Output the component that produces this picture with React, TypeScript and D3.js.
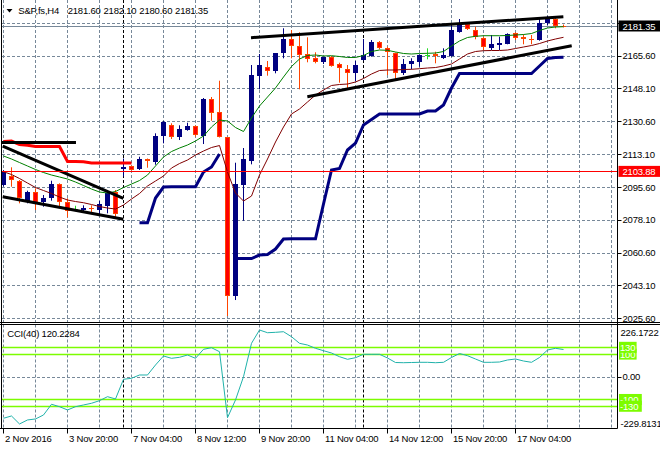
import React from "react";
import * as d3 from "d3";

// ---------- data ----------
const opens = [2096.61, 2101.41, 2098.74, 2087.55, 2092.72, 2087.55, 2089.53, 2097.15, 2087.39, 2083.98,
  2083.45, 2084.36, 2083.45, 2085.26, 2093.04, 2105.41, 2106.74, 2105.14, 2110.47, 2109.03,
  2122.72, 2128.43, 2122.35, 2125.92, 2128.05, 2122.72, 2142.44, 2135.67, 2122.03, 2037.46,
  2096.77, 2109.56, 2154.70, 2159.33, 2157.20, 2166.79, 2174.25, 2170.68, 2166.42, 2164.45,
  2162.00, 2164.66, 2160.93, 2158.59, 2156.46, 2163.22, 2165.35, 2172.66, 2169.46, 2167.11,
  2156.14, 2160.93, 2162.32, 2165.89, 2166.42, 2164.45, 2165.51, 2178.30, 2182.25, 2179.21,
  2174.79, 2169.46, 2171.38, 2171.75, 2177.45, 2175.48, 2174.57, 2173.88, 2182.78, 2185.07, 2181.60];
const highs = [2104.61, 2106.05, 2099.28, 2093.58, 2094.85, 2091.28, 2098.91, 2097.52, 2089.53, 2085.58,
  2085.80, 2085.80, 2088.09, 2093.95, 2093.95, 2110.73, 2107.00, 2111.69, 2110.73, 2124.16,
  2130.72, 2129.49, 2128.43, 2129.81, 2128.32, 2142.97, 2143.51, 2152.19, 2122.19, 2108.50,
  2116.33, 2160.56, 2166.42, 2162.69, 2166.95, 2180.12, 2179.21, 2177.98, 2175.32, 2167.33,
  2164.98, 2165.35, 2161.78, 2160.56, 2162.69, 2174.41, 2173.88, 2173.35, 2170.31, 2167.22,
  2163.76, 2164.13, 2166.26, 2169.46, 2167.65, 2169.46, 2181.87, 2185.07, 2182.78, 2180.97,
  2175.64, 2176.55, 2175.64, 2177.45, 2177.98, 2176.92, 2176.55, 2185.44, 2186.67, 2185.76, 2182.10];
const lows = [2095.81, 2095.71, 2086.86, 2086.86, 2083.29, 2085.05, 2088.25, 2085.05, 2079.40, 2082.76,
  2082.23, 2081.16, 2081.16, 2081.53, 2078.50, 2101.14, 2104.34, 2104.61, 2105.83, 2107.43,
  2118.83, 2121.13, 2120.59, 2125.55, 2122.35, 2118.46, 2130.88, 2121.93, 2026.81, 2035.33,
  2077.59, 2107.64, 2147.61, 2154.86, 2156.14, 2164.13, 2164.13, 2147.61, 2162.00, 2161.46,
  2161.09, 2159.65, 2151.13, 2147.77, 2152.03, 2162.96, 2164.98, 2168.93, 2155.23, 2152.03,
  2155.23, 2158.27, 2159.65, 2163.60, 2161.46, 2163.76, 2164.98, 2177.77, 2179.21, 2174.25,
  2168.55, 2168.55, 2168.55, 2171.59, 2173.88, 2171.59, 2171.59, 2173.51, 2181.87, 2180.12, 2180.60];
const closes = [2103.54, 2099.28, 2089.95, 2093.04, 2086.86, 2089.69, 2096.99, 2087.71, 2082.76, 2083.98,
  2084.52, 2083.66, 2086.49, 2092.51, 2081.16, 2106.05, 2104.87, 2110.31, 2109.24, 2122.72,
  2130.35, 2122.35, 2126.45, 2128.05, 2123.26, 2142.60, 2135.14, 2122.03, 2037.62, 2097.15,
  2110.47, 2155.23, 2160.56, 2157.20, 2166.79, 2174.25, 2170.84, 2166.05, 2163.92, 2162.32,
  2164.66, 2160.19, 2158.80, 2156.46, 2160.56, 2165.89, 2172.98, 2169.46, 2167.33, 2156.14,
  2161.09, 2162.69, 2165.89, 2165.89, 2165.62, 2165.89, 2179.21, 2182.78, 2179.58, 2175.32,
  2169.99, 2171.59, 2172.44, 2177.08, 2175.11, 2174.25, 2174.15, 2182.78, 2185.44, 2181.34, 2181.35];

const maFast = [2112.07, 2110.47, 2108.60, 2106.74, 2104.87, 2103.27, 2101.94, 2100.88, 2099.81, 2098.21,
  2096.35, 2094.48, 2092.88, 2092.35, 2093.15, 2095.28, 2097.14, 2099.01, 2101.94, 2106.74,
  2111.53, 2114.46, 2116.33, 2117.93, 2120.06, 2122.72, 2127.52, 2131.25, 2130.72, 2127.26,
  2125.12, 2132.32, 2138.71, 2143.51, 2148.31, 2154.17, 2159.76, 2163.76, 2165.62, 2165.89,
  2165.36, 2165.52, 2165.09, 2164.56, 2164.56, 2165.62, 2167.75, 2168.55, 2168.39, 2167.49,
  2166.69, 2166.42, 2166.69, 2166.79, 2166.95, 2167.75, 2170.68, 2173.35, 2175.21, 2175.85,
  2176.17, 2176.17, 2176.17, 2176.28, 2176.55, 2176.81, 2177.34, 2178.94, 2180.27, 2180.81, 2180.97];
const maSlow = [2103.70, 2102.21, 2100.08, 2097.68, 2095.28, 2093.68, 2092.08, 2090.22, 2088.62, 2087.82,
  2087.18, 2086.22, 2085.16, 2084.36, 2083.82, 2085.95, 2089.15, 2092.08, 2096.08, 2098.74,
  2101.41, 2105.67, 2108.07, 2109.93, 2112.60, 2114.73, 2116.60, 2117.66, 2103.54, 2092.35,
  2088.09, 2090.75, 2101.94, 2110.47, 2119.53, 2127.52, 2134.45, 2137.11, 2140.84, 2144.57,
  2147.24, 2149.64, 2150.17, 2150.43, 2151.50, 2153.37, 2155.76, 2157.63, 2157.89, 2157.89,
  2158.16, 2158.27, 2158.59, 2158.96, 2159.22, 2160.02, 2161.09, 2163.76, 2166.42, 2167.75,
  2168.18, 2168.28, 2168.28, 2168.55, 2169.35, 2170.15, 2170.95, 2172.01, 2173.35, 2174.41, 2175.32];
const trailUp = [null, null, null, null, null, null, null, null, null, null,
  null, null, null, null, null, null, null, 2076.52, 2076.52, 2089.69,
  2095.55, 2095.71, 2095.71, 2095.71, 2095.71, 2103.54, 2106.20, 2113.13, null, 2057.45,
  2057.45, 2057.45, 2059.31, 2059.58, 2062.51, 2067.84, 2068.00, 2068.00, 2068.00, 2068.00,
  2086.49, 2104.61, 2105.41, 2115.26, 2118.99, 2128.59, 2131.52, 2134.45, 2134.45, 2134.45,
  2134.45, 2134.45, 2134.45, 2136.05, 2136.05, 2139.25, 2148.31, 2156.03, 2156.03, 2156.03,
  2156.03, 2156.03, 2156.03, 2156.03, 2156.03, 2156.03, 2156.03, 2160.02, 2164.02, 2164.56, 2164.67];
const trailDown = [2119.79, 2120.06, 2118.20, 2117.77, 2117.13, 2117.13, 2117.13, 2117.13, 2109.14, 2109.14,
  2108.98, 2108.34, 2108.34, 2108.34, 2108.34, 2108.34, 2108.34];

const cciValues = [-182.9, -172.8, -208.0, -190.4, -186.0, -168.4, -121.2, -131.8, -146.3, -131.8,
  -124.3, -116.8, -105.3, -87.7, -97.8, -11.0, -6.6, 7.9, 7.9, 52.0,
  91.7, 81.5, 85.9, 96.1, 81.5, 121.2, 128.2, 110.6, -180.3, -102.2,
  0.4, 147.6, 206.3, 194.4, 196.1, 198.8, 176.7, 147.6, 140.1, 125.6,
  115.0, 104.9, 88.6, 77.1, 84.2, 99.2, 99.2, 99.2, 82.9, 63.0,
  62.1, 63.0, 63.9, 63.9, 62.1, 63.9, 85.1, 102.7, 93.0, 78.4,
  63.9, 63.9, 65.2, 74.0, 78.4, 69.6, 63.9, 85.1, 118.1, 125.6, 120.2284];
const cciRange = [-229.8131, 226.1722];
const cciLevels = [100, -100, 130, -130];

const priceTicks = [2025.6, 2043.1, 2060.6, 2078.1, 2095.6, 2113.1, 2130.6, 2148.1, 2165.6, 2183.1];
const hiddenPriceTicks = [2183.1];
const timeLabelBars = [0, 8, 16, 24, 32, 40, 48, 56, 64];
const timeLabelTexts = ["2 Nov 2016", "3 Nov 20:00", "7 Nov 04:00", "8 Nov 12:00", "9 Nov 20:00",
  "11 Nov 04:00", "14 Nov 12:00", "15 Nov 20:00", "17 Nov 04:00"];
const separatorBars = [15, 45];

// trend line objects: [bar, price] pairs
const trendStartBar = [-0.2, -0.1, -0.1, 30.94, 37.98];
const trendStartPrice = [2119.26, 2117.40, 2090.38, 2175.11, 2143.67];
const trendEndBar = [9.06, 14.98, 14.98, 69.98, 71.03];
const trendEndPrice = [2119.26, 2089.53, 2078.34, 2186.30, 2170.84];

const hLinePrice = 2103.88;
const quoteValues = [2181.60, 2182.10, 2180.60, 2181.35];
const symbolText = "S&P,fs,H4";

// ---------- layout ----------
const W = 660, H = 450;
const plotLeft = 2, plotRight = 617.5;
const mainBottom = 322.5, cciTop = 324.5, cciBottom = 428.5;
const FONT = "'Liberation Sans', Arial, sans-serif";
const GRID = "#778899";
const BULL = "#000080";
const BEAR_FILL = "#ff0000";
const BEAR_EDGE = "#ff4500";
const DOJI = "#22dd22";

export default function App() {
  const x = d3.scaleLinear().domain([0, 70]).range([3.5, 563.5]);
  const y = d3.scaleLinear().domain([2025.6, 2183.1]).range([318.3, 22.7]);
  const yc = d3.scaleLinear().domain(cciRange).range([428.9, 325.5]);
  const snap = (v: number) => Math.round(v) + 0.5;

  const lineP = d3.line<number | null>()
    .defined((d) => d != null)
    .x((_, i) => x(i))
    .y((d) => y(d as number));
  const lineC = d3.line<number>().x((_, i) => x(i)).y((d) => yc(d));

  const gridBars = d3.range(0, 77, 4);
  const lastIdx = opens.length - 1;

  const candles = opens.map((o, i) => {
    const c = closes[i];
    const cx = x(i);
    const yo = Math.round(y(o));
    const yC = Math.round(y(c));
    const top = Math.min(yo, yC);
    const bot = Math.max(yo, yC);
    const h = bot - top;
    const yh = y(highs[i]);
    const yl = y(lows[i]);
    if (o === c) {
      return (
        <g key={i}>
          <line x1={cx} x2={cx} y1={yh} y2={yl} stroke={DOJI} />
          <line x1={cx - 2.5} x2={cx + 2.5} y1={top + 0.5} y2={top + 0.5} stroke={DOJI} />
        </g>
      );
    }
    if (c > o) {
      return (
        <g key={i}>
          <line x1={cx} x2={cx} y1={yh} y2={yl} stroke={BULL} />
          <rect x={cx - 2.5} y={top} width={5} height={Math.max(h, 1)} fill={BULL} />
        </g>
      );
    }
    return (
      <g key={i}>
        <line x1={cx} x2={cx} y1={yh} y2={yl} stroke={BEAR_EDGE} />
        {h >= 2 ? (
          <rect x={cx - 2} y={top + 0.5} width={4} height={h - 1} fill={BEAR_FILL} stroke={BEAR_EDGE} />
        ) : (
          <line x1={cx - 2.5} x2={cx + 2.5} y1={top + 0.5} y2={top + 0.5} stroke={BEAR_EDGE} />
        )}
      </g>
    );
  });

  const textStyle = { fontFamily: FONT, fontSize: 9.5, letterSpacing: "-0.2px" } as React.CSSProperties;

  return (
    <svg width={W} height={H} style={{ position: "absolute", left: 0, top: 0, background: "#fff" }}
      xmlns="http://www.w3.org/2000/svg">
      <defs>
        <clipPath id="mainClip"><rect x={plotLeft} y={0} width={plotRight - plotLeft} height={mainBottom} /></clipPath>
        <clipPath id="cciClip"><rect x={plotLeft} y={cciTop} width={plotRight - plotLeft} height={cciBottom - cciTop} /></clipPath>
      </defs>
      <rect x={0} y={0} width={W} height={H} fill="#fff" />

      {/* vertical grid */}
      {gridBars.map((b) => (
        <g key={"vg" + b}>
          <line x1={x(b)} x2={x(b)} y1={0} y2={mainBottom} stroke={GRID} strokeDasharray="3,2" />
          <line x1={x(b)} x2={x(b)} y1={cciTop} y2={cciBottom} stroke={GRID} strokeDasharray="3,2" />
        </g>
      ))}
      {/* horizontal grid main */}
      {priceTicks.map((p) => (
        <line key={"hg" + p} x1={plotLeft} x2={plotRight} y1={snap(y(p))} y2={snap(y(p))} stroke={GRID} strokeDasharray="3,2" />
      ))}
      {/* cci zero grid */}
      <line x1={plotLeft} x2={plotRight} y1={snap(yc(0))} y2={snap(yc(0))} stroke={GRID} strokeDasharray="3,2" />

      {/* week separators */}
      {separatorBars.map((b) => (
        <g key={"sep" + b}>
          <line x1={x(b)} x2={x(b)} y1={0} y2={mainBottom} stroke="#000" strokeDasharray="3,2" />
          <line x1={x(b)} x2={x(b)} y1={cciTop} y2={cciBottom} stroke="#000" strokeDasharray="3,2" />
        </g>
      ))}

      {/* current price line */}
      <line x1={plotLeft} x2={plotRight} y1={snap(y(quoteValues[3]))} y2={snap(y(quoteValues[3]))} stroke={GRID} />

      <g clipPath="url(#mainClip)">
        {candles}
        <path d={lineP(maSlow) || ""} fill="none" stroke="#800000" strokeWidth={1} />
        <path d={lineP(maFast) || ""} fill="none" stroke="#008000" strokeWidth={1} />
        <path d={lineP(trailUp) || ""} fill="none" stroke="#000080" strokeWidth={3} />
        <path d={lineP(trailDown) || ""} fill="none" stroke="#ff0000" strokeWidth={3} />
        {trendStartBar.map((b, k) => (
          <line key={"tl" + k} x1={x(b)} y1={y(trendStartPrice[k])} x2={x(trendEndBar[k])} y2={y(trendEndPrice[k])}
            stroke="#000" strokeWidth={3} />
        ))}
        <line x1={plotLeft} x2={plotRight} y1={snap(y(hLinePrice))} y2={snap(y(hLinePrice))} stroke="#ff0000" />
      </g>

      {/* CCI */}
      <g clipPath="url(#cciClip)">
        {cciLevels.map((l) => (
          <line key={"lv" + l} x1={plotLeft} x2={plotRight} y1={snap(yc(l))} y2={snap(yc(l))} stroke="#7cfc00" strokeWidth={1.3} />
        ))}
        <path d={lineC(cciValues) || ""} fill="none" stroke="#20b2aa" strokeWidth={1} />
      </g>

      {/* frames */}
      <line x1={1.5} x2={1.5} y1={0} y2={cciBottom} stroke="#000" />
      <line x1={plotRight} x2={plotRight} y1={0} y2={cciBottom} stroke="#000" />
      <line x1={0} x2={W} y1={mainBottom} y2={mainBottom} stroke="#000" />
      <line x1={0} x2={W} y1={cciTop} y2={cciTop} stroke="#000" />
      <line x1={0} x2={plotRight} y1={cciBottom} y2={cciBottom} stroke="#000" />

      {/* price axis */}
      {priceTicks.map((p) => (
        <g key={"pl" + p}>
          <line x1={plotRight} x2={plotRight + 4} y1={snap(y(p))} y2={snap(y(p))} stroke="#000" />
          {hiddenPriceTicks.indexOf(p) < 0 && (
            <text x={622.5} y={y(p) + 3.6} style={textStyle} fill="#000">{p.toFixed(2)}</text>
          )}
        </g>
      ))}
      {/* horizontal line label */}
      <rect x={618.5} y={y(hLinePrice) - 5.5} width={42} height={11} fill="#ff0000" />
      <text x={622.5} y={y(hLinePrice) + 3.6} style={textStyle} fill="#fff">{hLinePrice.toFixed(2)}</text>
      {/* current price label */}
      <rect x={618.5} y={y(quoteValues[3]) - 5.5} width={42} height={11} fill="#000" />
      <text x={622.5} y={y(quoteValues[3]) + 3.6} style={textStyle} fill="#fff">{quoteValues[3].toFixed(2)}</text>

      {/* CCI axis */}
      <text x={620.5} y={336} style={textStyle} fill="#000">{cciRange[1].toFixed(4)}</text>
      <text x={622.5} y={yc(0) + 3.6} style={textStyle} fill="#000">0.00</text>
      <text x={620.5} y={426.5} style={textStyle} fill="#000">{cciRange[0].toFixed(4)}</text>
      <line x1={plotRight} x2={plotRight + 4} y1={snap(yc(0))} y2={snap(yc(0))} stroke="#000" />
      {cciLevels.map((l) => {
        const label = String(l);
        const w = label.length * 5.2 + 2;
        return (
          <g key={"ll" + l}>
            <rect x={619} y={yc(l) - 5.5} width={w} height={11} fill="#7cfc00" />
            <text x={620} y={yc(l) + 3.6} style={textStyle} fill="#fff">{label}</text>
          </g>
        );
      })}

      {/* time axis */}
      {timeLabelBars.map((b, k) => (
        <g key={"tl" + b}>
          <line x1={x(b)} x2={x(b)} y1={cciBottom} y2={cciBottom + 5} stroke="#000" />
          <text x={x(b) + 1.5} y={441.5} style={textStyle} fill="#000">{timeLabelTexts[k]}</text>
        </g>
      ))}

      {/* title */}
      <path d="M6.5,9 L12.5,9 L9.5,12.5 Z" fill="#000" />
      <text x={18.3} y={14} style={textStyle} fill="#000">{symbolText}</text>
      {quoteValues.map((v, k) => (
        <text key={"q" + k} x={67.7 + k * 35.8} y={14} style={textStyle} fill="#000">{v.toFixed(2)}</text>
      ))}

      {/* CCI title */}
      <text x={7.3} y={336.7} style={textStyle} fill="#000">{"CCI(40) " + cciValues[lastIdx].toFixed(4)}</text>
    </svg>
  );
}
